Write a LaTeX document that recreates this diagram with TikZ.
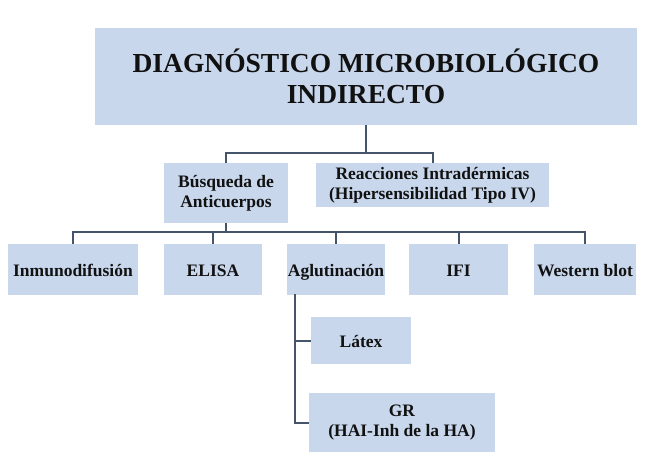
\documentclass[tikz,border=0pt]{standalone}
\usepackage{fontspec}
\setmainfont{Liberation Serif}
\definecolor{boxfill}{HTML}{C8D7EC}
\definecolor{linec}{HTML}{44546A}
\definecolor{txt}{HTML}{111111}
\begin{document}
\begin{tikzpicture}[x=1pt,y=-1pt,
  box/.style={fill=boxfill, draw=none, inner sep=0pt, align=center, text=txt, font=\bfseries\fontsize{17.5}{20}\selectfont},
  rowbox/.style={box, minimum height=51pt, text height=16pt, text depth=2pt},
  conn/.style={draw=linec, line width=2pt}]
\useasboundingbox[fill=white] (0,0) rectangle (671,473);
\node[box, minimum width=542pt, minimum height=97pt, font=\bfseries\fontsize{27.5}{31}\selectfont] (top) at (366,76.5) {DIAGNÓSTICO MICROBIOLÓGICO\\INDIRECTO};
\node[box, minimum width=124pt, minimum height=60pt] (busq) at (226,193) {Búsqueda de\\Anticuerpos};
\node[box, minimum width=233pt, minimum height=44pt] (reac) at (432.5,185) {Reacciones Intradérmicas\\(Hipersensibilidad Tipo IV)};
\node[rowbox, minimum width=130pt] (inm) at (73,269.5) {Inmunodifusión};
\node[rowbox, minimum width=98pt] (elisa) at (213,269.5) {ELISA};
\node[rowbox, minimum width=98pt] (aglut) at (336,269.5) {Aglutinación};
\node[rowbox, minimum width=99pt] (ifi) at (458.5,269.5) {IFI};
\node[rowbox, minimum width=102pt] (west) at (585,269.5) {Western blot};
\node[rowbox, minimum width=100pt, minimum height=47pt, text height=15pt] (latex) at (361,340.5) {Látex};
\node[box, minimum width=186pt, minimum height=59pt] (gr) at (402,422.5) {GR\\(HAI-Inh de la HA)};
\coordinate (b1) at (366,153);
\coordinate (b2) at (226,232);
\coordinate (b3) at (295,294);
\draw[conn] (top.south) -- (b1);
\draw[conn] (busq.north) |- (b1) -| (reac.north);
\draw[conn] (busq.south) -- (b2);
\draw[conn] (inm.north) |- (b2) -| (west.north);
\draw[conn] (elisa.north) -- (elisa.north |- b2);
\draw[conn] (aglut.north) -- (aglut.north |- b2);
\draw[conn] (ifi.north) -- (ifi.north |- b2);
\draw[conn] (b3) |- (gr.west);
\draw[conn] (b3 |- latex.west) -- (latex.west);
\end{tikzpicture}
\end{document}
